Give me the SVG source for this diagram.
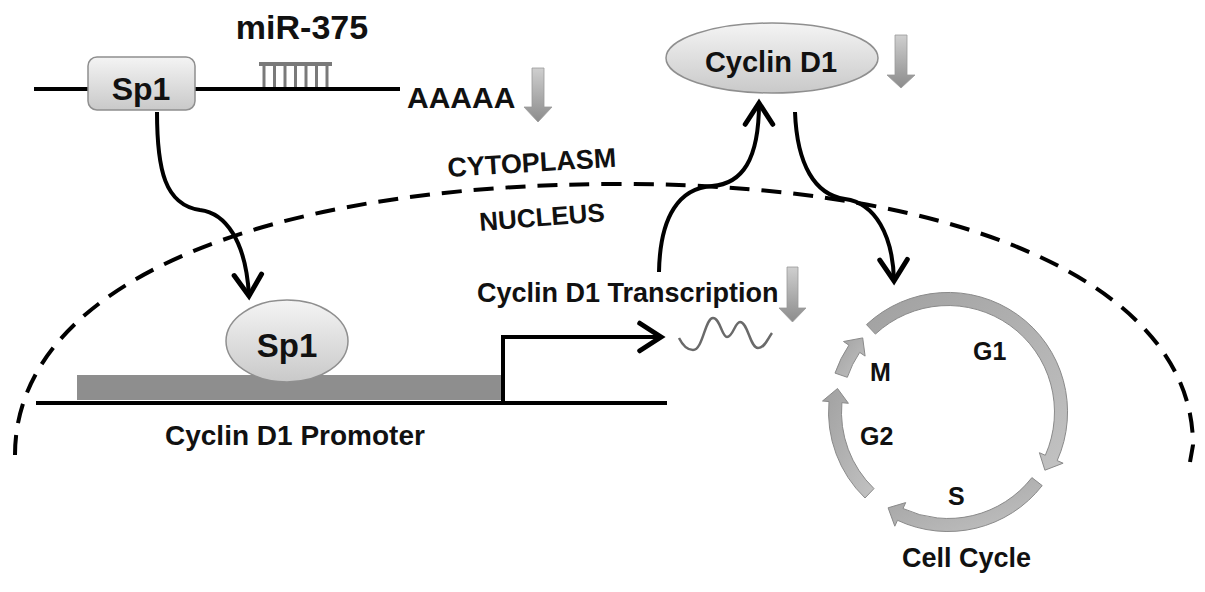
<svg xmlns="http://www.w3.org/2000/svg" width="1205" height="592" viewBox="0 0 1205 592">
<defs>
<linearGradient id="gBox" x1="0" y1="0" x2="0" y2="1"><stop offset="0" stop-color="#f4f4f4"/><stop offset="1" stop-color="#c9c9c9"/></linearGradient>
<linearGradient id="gDown" x1="0" y1="0" x2="0" y2="1"><stop offset="0" stop-color="#cfcfcf"/><stop offset="1" stop-color="#8c8c8c"/></linearGradient>
<linearGradient id="gRing" x1="0" y1="0" x2="1" y2="1"><stop offset="0" stop-color="#a0a0a0"/><stop offset="1" stop-color="#c2c2c2"/></linearGradient>
<marker id="chev" markerUnits="userSpaceOnUse" markerWidth="40" markerHeight="40" refX="0" refY="0" viewBox="-22 -16 26 32" orient="auto" overflow="visible">
<path d="M-17,-11 L0,0 L-17,11" fill="none" stroke="#000" stroke-width="4" stroke-linejoin="miter" stroke-linecap="round"/>
</marker>
</defs>
<style>
.t{font-family:"Liberation Sans",Arial,sans-serif;font-weight:bold;fill:#111}
.line{stroke:#000;stroke-width:4;fill:none}
.conn{stroke:#000;stroke-width:4;fill:none;marker-end:url(#chev)}
.down{fill:url(#gDown);stroke:#9a9a9a;stroke-width:0.8}
.ring{fill:url(#gRing);stroke:#8a8a8a;stroke-width:1}
.node{fill:url(#gBox);stroke:#8f8f8f;stroke-width:1.5}
</style>
<rect width="1205" height="592" fill="#fff"/>

<g id="nucleus-boundary">
<path d="M15,455 C15,285 260,184 620,184 C964,184 1193,286 1193,445 L1190,462" fill="none" stroke="#000" stroke-width="4" stroke-dasharray="20 12"/>
<text class="t" x="448" y="177" font-size="27" transform="rotate(-3.5 448 177)">CYTOPLASM</text>
<text class="t" x="480" y="231" font-size="26" transform="rotate(-4.5 480 231)">NUCLEUS</text>
</g>

<g id="mrna">
<line class="line" x1="34" y1="89" x2="400" y2="89"/>
<text class="t" x="407" y="108" font-size="30">AAAAA</text>
<path class="down" d="M532,68 H544 V107 H552 L538,122 L524,107 H532 Z"/>
</g>

<g id="mir375">
<text class="t" x="302" y="39" font-size="34" text-anchor="middle">miR-375</text>
<rect x="259" y="62" width="73" height="4" fill="#7a7a7a"/>
<g stroke="#7a7a7a" stroke-width="3">
<line x1="264" y1="64" x2="264" y2="87"/><line x1="274.5" y1="64" x2="274.5" y2="87"/><line x1="285" y1="64" x2="285" y2="87"/><line x1="295.5" y1="64" x2="295.5" y2="87"/><line x1="306" y1="64" x2="306" y2="87"/><line x1="316.5" y1="64" x2="316.5" y2="87"/><line x1="327" y1="64" x2="327" y2="87"/>
</g>
</g>

<g id="sp1-cytoplasm">
<rect class="node" x="88" y="57" width="107" height="53" rx="9"/>
<text class="t" x="141" y="100" font-size="32" text-anchor="middle">Sp1</text>
</g>

<g id="cyclin-d1-protein">
<ellipse class="node" cx="772" cy="58" rx="106" ry="35"/>
<text class="t" x="771" y="72" font-size="29" text-anchor="middle">Cyclin D1</text>
<path class="down" d="M895,35 H907 V75 H915 L901,88 L887,75 H895 Z"/>
</g>

<g id="promoter">
<rect x="77" y="375" width="424" height="25" fill="#8e8e8e"/>
<line class="line" x1="36" y1="403" x2="667" y2="403"/>
<text class="t" x="165" y="445" font-size="28">Cyclin D1 Promoter</text>
</g>

<g id="sp1-nucleus">
<ellipse class="node" cx="287" cy="341" rx="61" ry="41"/>
<text class="t" x="287" y="357" font-size="33" text-anchor="middle">Sp1</text>
</g>

<g id="transcription">
<text class="t" x="477" y="302" font-size="27">Cyclin D1 Transcription</text>
<path class="down" d="M787,267 H798 V308 H806 L792.5,322 L779,308 H787 Z"/>
<path d="M679,338 C683,346 688,350 693,350 C703,350 705,318 713,318 C720,318 722,337 727,337 C733,337 735,322 740,322 C748,322 750,348 758,348 C765,348 768,338 772,333" fill="none" stroke="#6a6a6a" stroke-width="2.5"/>
</g>

<g id="cell-cycle">
<path class="ring" d="M866.5,324.6 A119.5,119.5 0 0 1 1057.2,460.6 L1063.1,463.2 L1044.9,470.2 L1039.4,452.7 L1045.3,455.3 A106.5,106.5 0 0 0 875.4,334.1 Z"/>
<path class="ring" d="M1042.2,485.6 A119.5,119.5 0 0 1 897.5,520.3 L894.8,526.2 L888.1,507.8 L905.7,502.6 L903,508.5 A106.5,106.5 0 0 0 1031.9,477.6 Z"/>
<path class="ring" d="M865,498 A119.5,119.5 0 0 1 829,401.6 L822.5,401 L837.5,388.5 L848.4,403.3 L841.9,402.7 A106.5,106.5 0 0 0 874,488.6 Z"/>
<path class="ring" d="M835,373.1 A119.5,119.5 0 0 1 848.9,345.2 L843.5,341.5 L862.7,337.9 L865.1,356.1 L859.7,352.4 A106.5,106.5 0 0 0 847.3,377.3 Z"/>
<text class="t" x="973" y="360" font-size="25">G1</text>
<text class="t" x="870" y="381" font-size="25">M</text>
<text class="t" x="860" y="445" font-size="25">G2</text>
<text class="t" x="948" y="505" font-size="25">S</text>
<text class="t" x="902" y="567" font-size="27">Cell Cycle</text>
</g>

<g id="connectors">
<path class="conn" d="M157,112 C157,170 165,205 200,210 C225,213 246,240 249,296"/>
<path class="conn" d="M503,403 L503,337 L661,337"/>
<path class="conn" d="M659,272 C660,215 680,188 712,186 C742,184 759,160 759,103"/>
<path class="conn" d="M795,112 C797,165 815,195 845,199 C875,203 893,235 894,281"/>
</g>
</svg>
